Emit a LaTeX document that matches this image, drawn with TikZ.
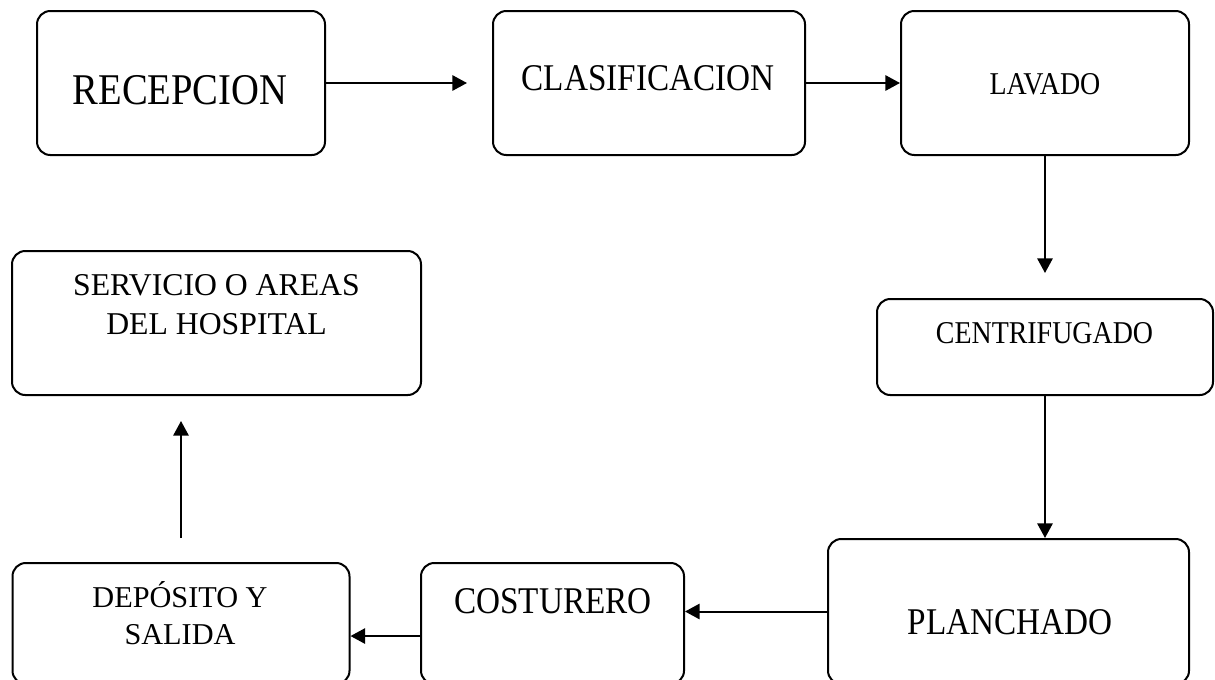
\documentclass[tikz,border=0pt]{standalone}
\usepackage{fontspec}
\setmainfont{Liberation Serif}
\newfontfamily\camb[FakeStretch=0.88]{Liberation Serif}
\usetikzlibrary{arrows.meta}
\begin{document}
\begin{tikzpicture}[x=0.75pt,y=-0.75pt,
  box/.style={draw,line width=1.5pt,rounded corners=10pt,inner sep=0pt},
  arr/.style={line width=1.5pt,-{Triangle[length=11pt,width=11.5pt]}},
  lbl/.style={anchor=base,inner sep=0pt}]
\fill[white] (0,0) rectangle (1215,679);
\useasboundingbox (0,0) rectangle (1215,679);
% boxes
\node[box,minimum width=216pt,minimum height=108pt] (rec) at (181,83) {};
\node[box,minimum width=234pt,minimum height=108pt] (cla) at (649,83) {};
\node[box,minimum width=216pt,minimum height=108pt] (lav) at (1045,83) {};
\node[box,minimum width=252pt,minimum height=72pt] (cen) at (1045,347) {};
\node[box,minimum width=270.75pt,minimum height=108.75pt] (pla) at (1008.5,611.5) {};
\node[box,minimum width=197.25pt,minimum height=90.75pt] (cos) at (552.5,623.5) {};
\node[box,minimum width=252.75pt,minimum height=90.75pt] (dep) at (181,623.5) {};
\node[box,minimum width=306.75pt,minimum height=108pt] (ser) at (216.5,323) {};
% labels
\node[lbl,font=\camb\fontsize{32.9pt}{38pt}\selectfont] (trec) at (180,104) {RECEPCION};
\node[lbl,font=\camb\fontsize{28.3pt}{34pt}\selectfont] (tcla) at (648,90) {CLASIFICACION};
\node[lbl,font=\camb\fontsize{23.8pt}{28pt}\selectfont] (tlav) at (1045,94) {LAVADO};
\node[lbl,font=\camb\fontsize{23.8pt}{28pt}\selectfont] (tcen) at (1044.5,343) {CENTRIFUGADO};
\node[lbl,font=\camb\fontsize{28.3pt}{34pt}\selectfont] (tpla) at (1010,634) {PLANCHADO};
\node[lbl,font=\camb\fontsize{28.3pt}{34pt}\selectfont] (tcos) at (553,613) {COSTURERO};
\node[lbl,font=\fontsize{23.8pt}{28pt}\selectfont] (tser1) at (216.5,295) {SERVICIO O AREAS};
\node[lbl,font=\fontsize{23.8pt}{28pt}\selectfont] (tser2) at (216.5,334) {DEL HOSPITAL};
\node[lbl,font=\fontsize{22.7pt}{27pt}\selectfont] (tdep1) at (180,607) {DEPÓSITO Y};
\node[lbl,font=\fontsize{22.7pt}{27pt}\selectfont] (tdep2) at (180,644) {SALIDA};
% connectors
\draw[arr,shorten >=18.75pt] (rec.east) -- (cla.west);
\draw[arr] (cla.east) -- (lav.west);
\draw[arr,shorten >=18.75pt] (lav.south) -- (cen.north);
\draw[arr] (cen.south) -- (cen.south |- pla.north);
\draw[arr] (pla.west) -- (pla.west -| cos.east);
\draw[arr] ([yshift=-9.4pt]cos.west) -- ([yshift=-9.4pt]dep.east);
\draw[arr,shorten <=18pt,shorten >=18.75pt] (dep.north) -- (dep.north |- ser.south);
\end{tikzpicture}
\end{document}
